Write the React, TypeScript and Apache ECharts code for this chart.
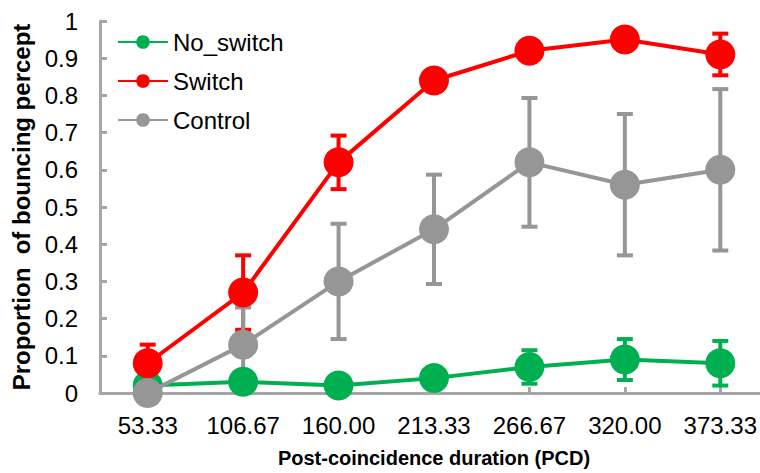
import React, { useEffect, useRef } from "react";
import * as echarts from "echarts";

const categories = ["53.33", "106.67", "160.00", "213.33", "266.67", "320.00", "373.33"];
const yTicks = [0, 0.1, 0.2, 0.3, 0.4, 0.5, 0.6, 0.7, 0.8, 0.9, 1];

const noSwitch = [0.02, 0.03, 0.02, 0.04, 0.07, 0.09, 0.08];
const noSwitchErr = [0.02, 0.02, 0.02, 0.03, 0.045, 0.055, 0.06];

const switchVals = [0.08, 0.27, 0.62, 0.84, 0.92, 0.95, 0.91];
const switchErr = [0.05, 0.1, 0.072, 0.02, 0.02, 0.02, 0.056];

const control = [0.0, 0.13, 0.3, 0.44, 0.62, 0.56, 0.6];
const controlErr = [0.01, 0.1, 0.155, 0.147, 0.173, 0.19, 0.217];

const GREEN = "#00b050";
const RED = "#ff0000";
const GRAY = "#969696";
const AXIS = "#a6a6a6";
const FONT = "'Liberation Sans', Arial, sans-serif";

function errorSeries(name: string, vals: number[], errs: number[], color: string) {
  return {
    type: "custom",
    name: name + "_err",
    z: 1,
    silent: true,
    data: vals.map((v, i) => [i, v, errs[i]]),
    renderItem: (params: any, api: any) => {
      const x = api.value(0);
      const y = api.value(1);
      const e = api.value(2);
      const top = api.coord([x, y + e]);
      const bot = api.coord([x, Math.max(y - e, 0)]);
      const hw = 8;
      const style = { stroke: color, lineWidth: 4 };
      return {
        type: "group",
        children: [
          { type: "line", shape: { x1: top[0], y1: top[1], x2: bot[0], y2: bot[1] }, style },
          { type: "line", shape: { x1: top[0] - hw, y1: top[1], x2: top[0] + hw, y2: top[1] }, style },
          { type: "line", shape: { x1: bot[0] - hw, y1: bot[1], x2: bot[0] + hw, y2: bot[1] }, style },
        ],
      };
    },
  };
}

function lineSeries(name: string, vals: number[], color: string, z: number) {
  return {
    type: "line",
    name,
    z,
    data: vals,
    symbol: "circle",
    symbolSize: 30,
    lineStyle: { color, width: 4 },
    itemStyle: { color },
  };
}

export default function App() {
  const ref = useRef<HTMLDivElement>(null);
  useEffect(() => {
    if (!ref.current) return;
    const chart = echarts.init(ref.current, undefined, { renderer: "svg" });
    chart.setOption({
      animation: false,
      backgroundColor: "#ffffff",
      grid: { left: 100, top: 21, width: 668, height: 374, containLabel: false },
      legend: {
        orient: "vertical",
        left: 117,
        top: 29,
        padding: 0,
        itemWidth: 50,
        itemHeight: 17,
        itemGap: 13,
        data: ["No_switch", "Switch", "Control"],
        textStyle: { fontSize: 24, fontFamily: FONT, color: "#000", lineHeight: 26 },
      },
      xAxis: {
        type: "category",
        data: categories,
        boundaryGap: true,
        name: "Post-coincidence duration (PCD)",
        nameLocation: "middle",
        nameGap: 55,
        nameTextStyle: { fontSize: 20, fontWeight: "bold", fontFamily: FONT, color: "#000" },
        axisLine: { lineStyle: { color: AXIS, width: 3 } },
        axisTick: { show: true, inside: true, alignWithLabel: true, length: 6, lineStyle: { color: AXIS, width: 3 } },
        axisLabel: { fontSize: 24, fontFamily: FONT, color: "#000", margin: 20 },
        splitLine: { show: false },
      },
      yAxis: {
        type: "value",
        min: 0,
        max: 1,
        interval: 0.1,
        name: "Proportion  of bouncing percept",
        nameLocation: "middle",
        nameGap: 61,
        nameTextStyle: { fontSize: 24, fontWeight: "bold", fontFamily: FONT, color: "#000" },
        axisLine: { show: true, lineStyle: { color: AXIS, width: 3 } },
        axisTick: { show: true, inside: true, length: 7, lineStyle: { color: AXIS, width: 3 } },
        axisLabel: {
          fontSize: 24,
          fontFamily: FONT,
          color: "#000",
          margin: 22,
          formatter: (v: number) => {
            const t = yTicks.find((k) => Math.abs(k - v) < 1e-6);
            return t === undefined ? "" : String(t);
          },
        },
        splitLine: { show: false },
      },
      series: [
        errorSeries("No_switch", noSwitch, noSwitchErr, GREEN),
        errorSeries("Switch", switchVals, switchErr, RED),
        errorSeries("Control", control, controlErr, GRAY),
        lineSeries("No_switch", noSwitch, GREEN, 2),
        lineSeries("Switch", switchVals, RED, 3),
        lineSeries("Control", control, GRAY, 4),
      ],
    });
    return () => chart.dispose();
  }, []);
  return (
    <div
      ref={ref}
      style={{ position: "fixed", left: 0, top: 0, width: 790, height: 473 }}
    />
  );
}
